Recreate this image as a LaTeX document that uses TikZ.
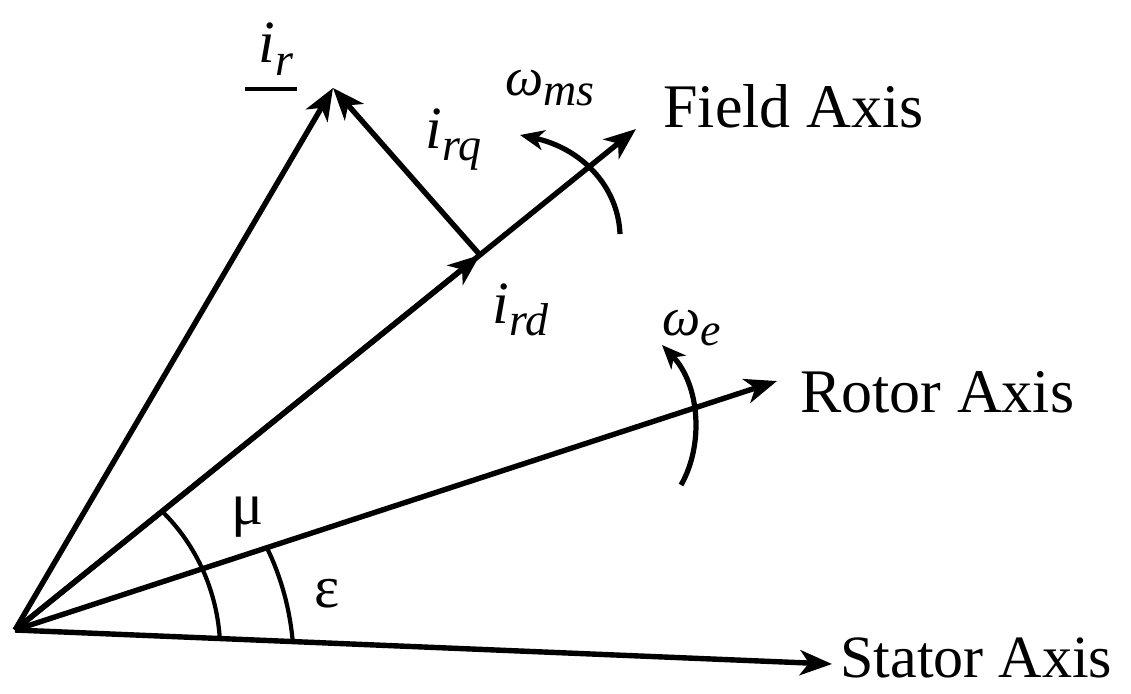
\documentclass[tikz,border=0pt]{standalone}
\usepackage{fontspec}
\setmainfont{Liberation Serif}
\usetikzlibrary{arrows.meta}
\newcommand\vsub[3][6pt]{#2\raisebox{-#1}{\fontsize{23}{23}\selectfont #3}}
\begin{document}
\begin{tikzpicture}[x=0.5pt,y=-0.5pt,
  vec/.style={line width=2.7pt, -{Stealth[length=16pt,width=12.5pt,inset=4.5pt]}},
  rot/.style={line width=2.6pt, -{Stealth[length=12pt,width=10pt,inset=3.5pt]}},
  ang/.style={line width=2.1pt},
  axlabel/.style={font=\fontsize{31}{32}\selectfont, anchor=base west, inner sep=0pt},
  sym/.style={font=\fontsize{30}{30}\selectfont\itshape, anchor=base west, inner sep=0pt},
  greek/.style={font=\fontsize{30}{30}\selectfont, inner sep=0pt}]
\useasboundingbox (0,0) rectangle (1131,693);
\coordinate (O) at (15,630);
\coordinate (S) at (832,664);
\coordinate (RA) at (777,381);
\coordinate (F) at (636,129);
\coordinate (D) at (480,255);
\coordinate (R) at (333,88);
% vectors and axes
\draw[vec] (O) -- (S);
\draw[vec] (O) -- (RA);
\draw[vec] (O) -- (F);
\draw[vec] (O) -- (D);
\draw[vec] (O) -- (R);
\draw[vec] (D) -- (R);
% angle arcs
\draw[ang] plot[domain=-2.4:38.9, samples=40, variable=\t]
  ({15+(205-(\t+2.4)*16/41.3)*cos(\t)},{630-(205-(\t+2.4)*16/41.3)*sin(\t)});
\draw[ang] plot[domain=-2.4:18.1, samples=30, variable=\t]
  ({15+(278-(\t+2.4)*13/20.5)*cos(\t)},{630-(278-(\t+2.4)*13/20.5)*sin(\t)});
% rotation arrows
\draw[rot] (620,234) .. controls (618,185) and (580,148) .. (520,135);
\draw[rot] (681,485) .. controls (704,445) and (700,385) .. (662,345);
% labels
\node[axlabel] (fl) at (663,127) {Field Axis};
\node[axlabel] (rl) at (800,412) {Rotor Axis};
\node[axlabel, font=\fontsize{30}{30}\selectfont] (sl) at (840,677) {Stator Axis};
\node[sym] (ir) at (258,62) {\vsub[6.5pt]{i}{r}};
\draw[line width=2.2pt] (245,89) -- (297,89);
\node[sym] (irq) at (425,148) {\vsub{i}{rq}};
\node[sym] (ird) at (492,323) {\vsub{i}{rd}};
\node[sym] (wms) at (505,95) {\vsub[5pt]{{\fontsize{27}{27}\selectfont ω}}{ms}};
\node[sym] (we) at (662,335) {\vsub[5pt]{{\fontsize{27}{27}\selectfont ω}}{e}};
\node[greek] (mu) at (248,517) {μ};
\node[greek] (eps) at (327,594) {ε};
\end{tikzpicture}
\end{document}
